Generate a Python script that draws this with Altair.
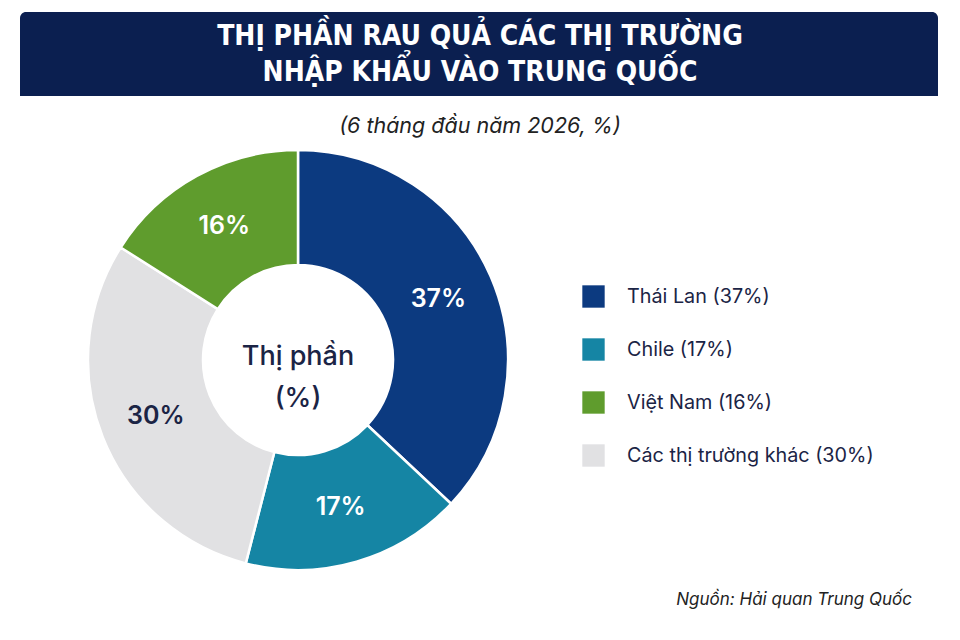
import altair as alt
import pandas as pd

# ---- data ----
markets = ["Thái Lan", "Chile", "Các thị trường khác", "Việt Nam"]   # order around the ring (clockwise from top)
shares = [37, 17, 30, 16]
slice_colors = {"Thái Lan": "#0C3A80", "Chile": "#1585A4", "Việt Nam": "#5F9C2D", "Các thị trường khác": "#E1E1E3"}
legend_order = ["Thái Lan", "Chile", "Việt Nam", "Các thị trường khác"]
label_colors = {"Thái Lan": "#FFFFFF", "Chile": "#FFFFFF", "Việt Nam": "#FFFFFF", "Các thị trường khác": "#1B2445"}

title_lines = ["THỊ PHẦN RAU QUẢ CÁC THỊ TRƯỜNG", "NHẬP KHẨU VÀO TRUNG QUỐC"]
subtitle = "(6 tháng đầu năm 2026, %)"
center_lines = ["Thị phần", "(%)"]
source = "Nguồn: Hải quan Trung Quốc"

df = pd.DataFrame({
    "market": markets,
    "share": shares,
    "ord": list(range(len(markets))),
})
df["legend"] = [f"{m} ({s}%)" for m, s in zip(markets, shares)]
df["pct"] = [f"{s}%" for s in shares]
df["labelColor"] = [label_colors[m] for m in markets]

legend_domain = [f"{m} ({shares[markets.index(m)]}%)" for m in legend_order]
legend_range = [slice_colors[m] for m in legend_order]

FONT = "Inter"
TFONT = "'DejaVu Sans Condensed', 'DejaVu Sans', sans-serif"
CX, CY = 290, 352

base = alt.Chart(df).encode(
    theta=alt.Theta("share:Q", stack=True),
    order=alt.Order("ord:Q"),
)

arcs = base.mark_arc(innerRadius=95, outerRadius=210, stroke="white", strokeWidth=2.5).encode(
    color=alt.Color(
        "legend:N",
        scale=alt.Scale(domain=legend_domain, range=legend_range),
        legend=alt.Legend(
            title=None, orient="none", legendX=574, legendY=277,
            symbolType="square", symbolSize=500, symbolStrokeWidth=0,
            labelFont=FONT, labelFontSize=19.8, labelColor="#1B2445", labelLimit=400,
            labelOffset=22, rowPadding=30, padding=0,
        ),
    ),
    x=alt.value(CX), y=alt.value(CY),
)

labels = base.mark_text(radius=153, font=FONT, fontSize=25, fontWeight=600).encode(
    text="pct:N",
    color=alt.Color("labelColor:N", scale=None),
    x=alt.value(CX), y=alt.value(CY),
)

one = alt.Data(values=[{"a": 1}])

banner = alt.Chart(one).mark_rect(color="#0B1F50", cornerRadiusTopLeft=6, cornerRadiusTopRight=6).encode(
    x=alt.value(12), x2=alt.value(930), y=alt.value(4), y2=alt.value(88)
)

def text_layer(txt, x, y, **kw):
    return alt.Chart(one).mark_text(**kw).encode(x=alt.value(x), y=alt.value(y), text=alt.value(txt))

t1 = text_layer(title_lines[0], 472, 29, font=TFONT, fontSize=28, fontWeight="bold", color="white")
t2 = text_layer(title_lines[1], 472, 65, font=TFONT, fontSize=28, fontWeight="bold", color="white")
sub = text_layer(subtitle, 472, 119, font=FONT, fontSize=21.5, fontStyle="italic", color="#222222")
c1 = text_layer(center_lines[0], CX, 349, font=FONT, fontSize=27, fontWeight=500, color="#1B2445")
c2 = text_layer(center_lines[1], CX, 391, font=FONT, fontSize=27, fontWeight=500, color="#1B2445")
src = text_layer(source, 904, 592, font=FONT, fontSize=17, fontStyle="italic", color="#222222", align="right")

chart = alt.layer(banner, arcs, labels, t1, t2, sub, c1, c2, src).properties(
    width=944, height=624, padding=0, background="white",
    autosize=alt.AutoSizeParams(type="none"),
).configure_view(stroke=None)

chart.save("out.html", embed_options={"renderer": "svg", "actions": False})
